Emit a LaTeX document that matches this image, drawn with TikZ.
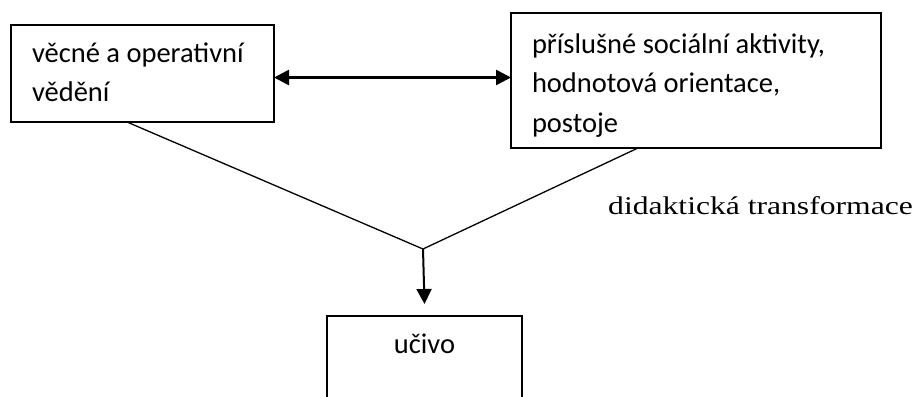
\documentclass[tikz,border=0pt]{standalone}
\usepackage{fontspec}
\setmainfont{Carlito}
\newfontfamily\timesfont[FakeStretch=1.24]{Liberation Serif}
\usetikzlibrary{arrows.meta}
\begin{document}
\begin{tikzpicture}[x=1pt,y=-1pt,
		box/.style={draw,line width=1.5pt,inner xsep=21pt,inner ysep=0pt,outer sep=0pt,align=flush left,font=\fontsize{28.5}{39}\selectfont},
		tip/.style={-{Triangle[length=15pt,width=15pt]}},
		tips/.style={{Triangle[length=15pt,width=15pt]}-{Triangle[length=15pt,width=15pt]}}]
	\clip (0,0) rectangle (917,396);
	\node[box,anchor=north west,text width=221pt,text height=38pt,text depth=59pt] (vedeni) at (11,25) {věcné a operativní\\vědění};
	\node[box,anchor=north west,text width=328pt,text height=40pt,text depth=95pt,font=\fontsize{28.5}{39.5}\selectfont] (aktivity) at (511,13) {příslušné sociální aktivity,\\hodnotová orientace,\\postoje};
	\node[box,anchor=north,minimum width=195pt,text height=37pt,text depth=60pt] (ucivo) at (424.5,316) {učivo};
	\node[anchor=base west,inner sep=0pt,font=\timesfont\fontsize{25.5}{30}\selectfont] (transformace) at (608,214) {didaktická transformace};
	\coordinate (v) at (423,249);
	\draw[line width=1.3pt] ([xshift=-15.5pt]vedeni.south) -- (v) -- ([xshift=-58pt]aktivity.south);
	\draw[tip,line width=2pt] (v) -- ([yshift=12pt]ucivo.north);
	\draw[tips,line width=2.6pt] ([yshift=-4pt]vedeni.east) -- ([yshift=-4pt]vedeni.east -| aktivity.west);
\end{tikzpicture}
\end{document}
